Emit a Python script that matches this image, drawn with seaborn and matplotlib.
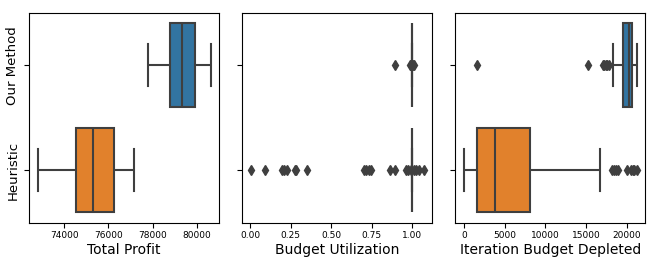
import numpy as np
import pandas as pd
import matplotlib
matplotlib.use("Agg")
import matplotlib.pyplot as plt
from matplotlib.ticker import MultipleLocator, FormatStrFormatter
import seaborn as sns

# ==========================================
# DATA
# ==========================================
METHODS = ["Our Method", "Heuristic"]
COLORS = ["#1f77b4", "#ff7f0e"]

# Total profit samples
profit_ours = [77780, 78300, 78800, 79100, 79330, 79600, 79890, 80250, 80610]
profit_heur = [72800, 73700, 74530, 74900, 75280, 75800, 76250, 76700, 77140]

# Budget utilization samples
util_ours = [0.894, 0.985, 0.99, 0.995, 1.005, 1.01] + [1.0] * 40
util_heur = [0.004, 0.09, 0.195, 0.21, 0.225, 0.275, 0.285, 0.352,
             0.70, 0.715, 0.73, 0.745, 0.865, 0.894, 0.96, 0.975, 0.99,
             1.01, 1.025, 1.04, 1.07] + [1.0] * 60

# Iteration at which the budget was depleted
iter_ours = [1600, 15200, 17000, 17200, 17400, 17600, 17800, 18300, 18900, 19300,
             19550, 19650, 19750, 19850, 19950, 20050, 20120, 20180, 20230, 20270,
             20300, 20330, 20360, 20390, 20420, 20450, 20480, 20510, 20540, 20570,
             20600, 20650, 20700, 20750, 20800, 20850, 20900, 20950, 21050, 21120,
             21200]
iter_heur = [0, 150, 300, 450, 600, 800, 950, 1100, 1300, 1450,
             1630, 1800, 2000, 2200, 2450, 2700, 2950, 3200, 3450, 3650,
             3870, 4300, 4800, 5300, 5800, 6300, 6800, 7200, 7600, 7900,
             8160, 16720, 18200, 18400, 18600, 18900, 20000, 20500, 20700,
             20900, 21200]

PANELS = [
    ("Total Profit", profit_ours, profit_heur),
    ("Budget Utilization", util_ours, util_heur),
    ("Iteration Budget Depleted", iter_ours, iter_heur),
]


def armar_tabla(ours, heur):
    return pd.DataFrame({
        "value": list(ours) + list(heur),
        "method": [METHODS[0]] * len(ours) + [METHODS[1]] * len(heur),
    })


def main():
    fig, axes = plt.subplots(1, 3, figsize=(6.64, 2.66), dpi=100, sharey=True)
    line_gray = "#3f3f3f"

    for ax, (label, ours, heur) in zip(axes, PANELS):
        df = armar_tabla(ours, heur)
        sns.boxplot(
            data=df, x="value", y="method", hue="method",
            order=METHODS, hue_order=METHODS, palette=COLORS,
            orient="h", legend=False, ax=ax, width=0.8, saturation=0.75,
            linecolor=line_gray, linewidth=1.5, fliersize=5,
            flierprops={"marker": "d", "markerfacecolor": line_gray,
                        "markeredgecolor": line_gray},
        )
        ax.set_xlabel(label, fontsize=10, labelpad=2)
        ax.set_ylabel("")
        ax.tick_params(axis="x", labelsize=6.5, pad=2.5)

    # utilization axis uses quarter ticks with two decimals
    axes[1].xaxis.set_major_locator(MultipleLocator(0.25))
    axes[1].xaxis.set_major_formatter(FormatStrFormatter("%.2f"))

    axes[0].tick_params(axis="y", labelsize=9.5)
    for t in axes[0].get_yticklabels():
        t.set_rotation(90)
        t.set_va("center")

    fig.subplots_adjust(left=0.0437, right=0.972, bottom=0.163, top=0.952, wspace=0.121)
    fig.savefig("out.png", dpi=100)
    plt.close(fig)


if __name__ == "__main__":
    main()
